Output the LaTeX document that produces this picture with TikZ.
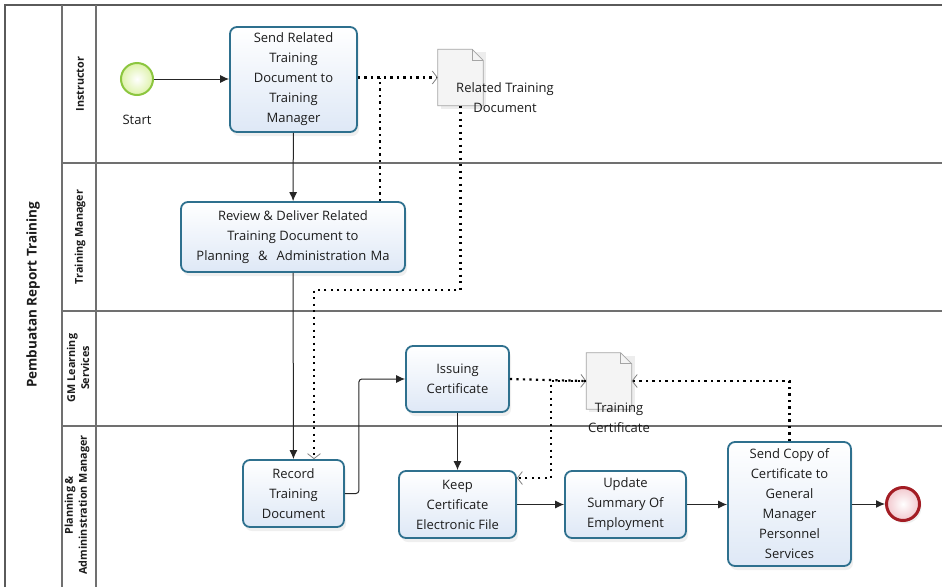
\documentclass[tikz,border=0pt]{standalone}
\usepackage{fontspec}
\setmainfont{Open Sans}
\usetikzlibrary{arrows.meta,shadows}

\definecolor{taskedge}{RGB}{46,112,142}
\definecolor{taskfill}{RGB}{222,232,246}
\definecolor{laneline}{RGB}{112,112,112}
\definecolor{startedge}{RGB}{140,198,63}
\definecolor{startfill}{RGB}{222,242,170}
\definecolor{endedge}{RGB}{163,29,36}
\definecolor{endfill}{RGB}{242,200,206}
\definecolor{docedge}{RGB}{165,165,165}
\definecolor{docfill}{RGB}{244,244,244}
\definecolor{ink}{RGB}{28,28,28}

% folded-corner document sheet drawn over a named placeholder node
\newcommand\docsheet[1]{%
  \fill[black,opacity=0.07] ([xshift=3pt,yshift=-3pt]#1.south west) rectangle ([xshift=3pt,yshift=-3pt]#1.north east);
  \draw[docedge,fill=docfill,line width=0.8pt]
    (#1.south west) -- (#1.north west) -- ([xshift=-11pt]#1.north east)
    -- ([yshift=-11pt]#1.north east) -- (#1.south east) -- cycle;
  \draw[docedge,line width=0.8pt]
    ([xshift=-11pt]#1.north east) -- ([xshift=-11pt,yshift=-11pt]#1.north east)
    -- ([yshift=-11pt]#1.north east);
}

\tikzset{
  task/.style={draw=taskedge, line width=1.8pt, rounded corners=7pt,
    top color=white, bottom color=taskfill, align=center, text=ink,
    font=\fontsize{13}{20}\selectfont, inner sep=1pt,
    drop shadow={shadow xshift=2pt,shadow yshift=-4pt,opacity=0.12}},
  startev/.style={circle, draw=startedge, line width=2pt, minimum size=32pt,
    inner color=white, outer color=startfill, inner sep=0pt},
  endev/.style={circle, draw=endedge, line width=3pt, minimum size=33pt,
    inner color=white, outer color=endfill, inner sep=0pt,
    drop shadow={shadow xshift=2pt,shadow yshift=-3pt,opacity=0.12}},
  docicon/.style={minimum width=45pt, minimum height=56pt, inner sep=0pt},
  label/.style={align=center, text=ink, font=\fontsize{13}{20}\selectfont},
  lanelabel/.style={rotate=90, align=center, text=ink,
    font=\fontsize{10.8}{14}\selectfont\bfseries},
  poollabel/.style={rotate=90, text=ink, font=\fontsize{13.5}{15}\selectfont\bfseries},
  laneline/.style={draw=laneline, line width=1.2pt},
  flow/.style={draw=black!85, line width=1pt, -{Latex[length=9pt,width=8pt]}},
  dots/.style={draw=black, line width=2.2pt, dash pattern=on 2.2pt off 4.3pt},
  assoc/.style={dots,
    -{Straight Barb[length=5pt,width=13pt,line width=0.8pt,color=gray]}},
}

\begin{document}
\begin{tikzpicture}[x=1pt,y=-1pt]
\useasboundingbox (0,0) rectangle (942,587);
\fill[white] (0,0) rectangle (942,587);

% pool and lanes
\draw[draw=laneline!80!black, line width=1.8pt] (5,587) -- (5,5) -- (942,5);
\draw[laneline] (62,5) -- (62,587);
\draw[laneline] (96,5) -- (96,587);
\draw[laneline] (62,163) -- (942,163);
\draw[laneline] (62,311) -- (942,311);
\draw[laneline] (62,426) -- (942,426);

\node[poollabel] (pool) at (33,295) {Pembuatan Report Training};
\node[lanelabel] (laneA) at (80,84) {Instructor};
\node[lanelabel] (laneB) at (80,237) {Training Manager};
\node[lanelabel] (laneC) at (78,368) {GM Learning\\Services};
\node[lanelabel] (laneD) at (77,505) {Planning \&\\Admininstration Manager};

% events
\node[startev] (start) at (137,79) {};
\node[label] (startlbl) at (137,120) {Start};
\node[endev] (finish) at (903,504) {};

% activities
\node[task, minimum width=127pt, minimum height=105pt] (sendrel) at (293.5,79.5)
  {Send Related\\Training\\Document to\\Training\\Manager};
\node[task, minimum width=224pt, minimum height=70pt] (review) at (293,237)
  {Review \& Deliver Related\\Training Document to\\Planning\hspace{9pt}\&\hspace{9pt}Administration\hspace{1pt} Ma};
\node[task, minimum width=103pt, minimum height=66pt] (issuing) at (457.5,379)
  {Issuing\\Certificate};
\node[task, minimum width=101pt, minimum height=67pt] (record) at (293.5,493.5)
  {Record\\Training\\Document};
\node[task, minimum width=117pt, minimum height=67pt] (keep) at (457.5,504.5)
  {Keep\\Certificate\\Electronic File};
\node[task, minimum width=121pt, minimum height=67pt] (update) at (625.5,504.5)
  {Update\\Summary Of\\Employment};
\node[task, minimum width=123pt, minimum height=124pt] (sendcopy) at (789.5,504)
  {Send Copy of\\Certificate to\\General\\Manager\\Personnel\\Services};

% data objects
\node[docicon] (rtd) at (460.5,77.5) {};
\docsheet{rtd}
\node[label] (rtdlbl) at (505,97.5) {Related Training\\Document};
\node[docicon] (tc) at (609,381) {};
\docsheet{tc}
\node[label] (tclbl) at (619,418) {Training\\Certificate};

% sequence flows
\draw[flow] (start.east) -- (start.east -| sendrel.west);
\draw[flow] (sendrel) -- (review);
\draw[flow] (review) -- (record);
\draw[flow, rounded corners=3pt] (record.east) -- ++(14,0) |- (issuing.west);
\draw[flow] (issuing) -- (keep);
\draw[flow] (keep) -- (update);
\draw[flow] (update.east) -- (update.east -| sendcopy.west);
\draw[flow] (sendcopy.east) -- (sendcopy.east -| finish.west);

% data associations
\coordinate (joinA) at (380,77.5);
\coordinate (bendA) at (314,290);
\coordinate (bendB) at (551,478);
\draw[assoc] (sendrel.east |- rtd.west) -- (rtd.west);
\draw[dots] ([xshift=87pt]review.north) -- (joinA);
\draw[assoc] (rtd.south) |- (bendA) -- (bendA |- record.north);
\draw[assoc] (issuing.east) -- (tc.west);
\draw[assoc] (tc.west) -| (bendB) -- (keep.east |- bendB);
\draw[assoc] (sendcopy.north) |- (tc.east);
\end{tikzpicture}
\end{document}
